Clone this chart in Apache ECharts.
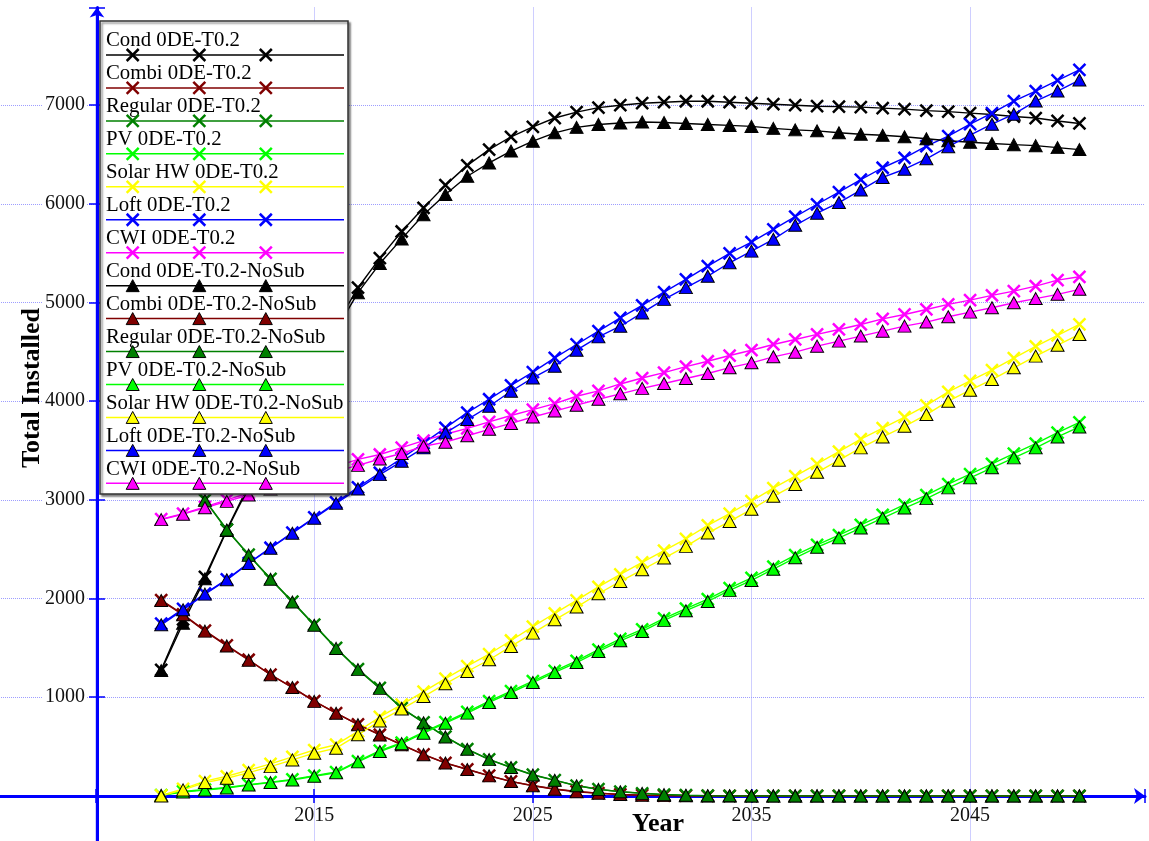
<!DOCTYPE html>
<html><head><meta charset="utf-8">
<script src="https://cdn.jsdelivr.net/npm/echarts@6/dist/echarts.min.js"></script>
<style>html,body{margin:0;padding:0;background:#fff}#c{width:1149px;height:841px}</style>
</head><body><div id="c"></div>
<script>
const years = [2008,2009,2010,2011,2012,2013,2014,2015,2016,2017,2018,2019,2020,2021,2022,2023,2024,2025,2026,2027,2028,2029,2030,2031,2032,2033,2034,2035,2036,2037,2038,2039,2040,2041,2042,2043,2044,2045,2046,2047,2048,2049,2050];

const xTickLabels = [2015, 2025, 2035, 2045];
const yTickLabels = [1000, 2000, 3000, 4000, 5000, 6000, 7000];

const condSub = [1278,1790,2220,2700,3150,3580,3990,4380,4770,5150,5450,5720,5960,6190,6390,6550,6680,6780,6870,6930,6975,7000,7020,7030,7040,7040,7030,7020,7010,7000,6990,6985,6980,6970,6960,6945,6935,6920,6905,6885,6870,6840,6815];
const combiSub = [1985,1840,1675,1525,1380,1230,1100,960,840,725,620,520,420,335,270,205,148,105,70,45,28,15,8,4,2,1,0,0,0,0,0,0,0,0,0,0,0,0,0,0,0,0,0];
const regularSub = [3560,3290,3000,2700,2445,2200,1970,1735,1500,1285,1095,890,745,600,475,370,290,215,160,105,68,44,27,14,7,3,1,0,0,0,0,0,0,0,0,0,0,0,0,0,0,0,0];
const pvSub = [8,45,65,85,115,140,168,206,242,352,458,540,646,748,851,960,1062,1164,1267,1369,1482,1591,1687,1800,1899,1994,2107,2209,2324,2440,2545,2644,2746,2849,2951,3049,3159,3262,3365,3468,3570,3682,3786];
const solarSub = [5,71,150,199,261,325,395,465,519,655,800,925,1057,1188,1316,1438,1575,1715,1851,1982,2119,2246,2366,2486,2606,2742,2862,2987,3120,3240,3366,3490,3616,3728,3838,3958,4094,4207,4316,4436,4555,4667,4778];
const loftSub = [1745,1895,2050,2195,2360,2515,2668,2822,2975,3128,3275,3420,3575,3730,3885,4020,4160,4294,4439,4575,4710,4845,4971,5106,5235,5370,5499,5613,5742,5871,5996,6120,6245,6366,6467,6585,6687,6807,6919,7042,7143,7252,7357];
const cwiSub = [2805,2860,2930,3000,3070,3140,3205,3270,3340,3410,3460,3530,3600,3665,3725,3790,3855,3915,3975,4050,4105,4175,4235,4290,4350,4405,4463,4517,4575,4626,4677,4727,4778,4835,4879,4930,4981,5024,5072,5116,5166,5227,5261];

const condNoSub = [1270,1750,2200,2690,3130,3550,3950,4340,4720,5100,5395,5645,5890,6095,6280,6415,6535,6635,6720,6775,6805,6820,6830,6825,6815,6805,6795,6785,6765,6750,6740,6720,6705,6695,6680,6660,6640,6625,6612,6600,6590,6570,6550];
const combiNoSub = [1980,1835,1670,1520,1375,1228,1098,958,838,722,618,518,418,333,268,203,146,103,68,43,27,14,7,3,1,0,0,0,0,0,0,0,0,0,0,0,0,0,0,0,0,0,0];
const regularNoSub = [3555,3285,2995,2695,2440,2195,1965,1730,1495,1280,1090,888,742,598,472,368,288,212,158,103,66,42,26,13,6,2,1,0,0,0,0,0,0,0,0,0,0,0,0,0,0,0,0];
const pvNoSub = [5,40,60,80,110,135,162,200,235,345,450,530,636,737,839,947,1048,1149,1251,1352,1464,1572,1667,1779,1877,1971,2083,2184,2298,2413,2520,2615,2715,2816,2917,3013,3122,3223,3325,3426,3527,3638,3739];
const solarNoSub = [0,61,135,179,236,297,365,433,484,619,760,880,1007,1136,1261,1380,1515,1650,1785,1914,2049,2174,2292,2411,2529,2664,2782,2905,3036,3155,3280,3402,3527,3638,3746,3865,4000,4112,4220,4339,4457,4568,4677];
const loftNoSub = [1734,1886,2045,2190,2355,2510,2662,2815,2965,3111,3256,3391,3527,3679,3814,3949,4101,4236,4355,4517,4652,4760,4895,5032,5151,5267,5403,5521,5641,5783,5905,6013,6140,6268,6351,6457,6579,6696,6807,6909,7042,7143,7255];
const cwiNoSub = [2800,2855,2920,2985,3050,3110,3170,3230,3290,3350,3414,3470,3544,3585,3650,3715,3775,3840,3900,3960,4020,4075,4130,4180,4230,4281,4340,4389,4450,4497,4558,4609,4660,4710,4761,4802,4856,4903,4947,4998,5040,5083,5134];

const seriesNames = ['Cond 0DE-T0.2','Combi 0DE-T0.2','Regular 0DE-T0.2','PV 0DE-T0.2','Solar HW 0DE-T0.2','Loft 0DE-T0.2','CWI 0DE-T0.2',
  'Cond 0DE-T0.2-NoSub','Combi 0DE-T0.2-NoSub','Regular 0DE-T0.2-NoSub','PV 0DE-T0.2-NoSub','Solar HW 0DE-T0.2-NoSub','Loft 0DE-T0.2-NoSub','CWI 0DE-T0.2-NoSub'];
const seriesValues = [condSub,combiSub,regularSub,pvSub,solarSub,loftSub,cwiSub,condNoSub,combiNoSub,regularNoSub,pvNoSub,solarNoSub,loftNoSub,cwiNoSub];
const palette = ['#000000','#800000','#008000','#00ff00','#ffff00','#0000ff','#ff00ff'];

const FONT = '"Liberation Serif", "Times New Roman", serif';
const XPATH = 'path://M0,0L10,10M10,0L0,10';
const AXIS_BLUE = '#0000ff';
const GRID_COLOR = '#9d9dff';

const chart = echarts.init(document.getElementById('c'), null, {renderer: 'canvas'});

const series = seriesValues.map((vals, i) => {
  const c = palette[i % 7];
  const isX = i < 7;
  return {
    type: 'line', name: seriesNames[i], xAxisIndex: 0, yAxisIndex: 0,
    data: years.map((y, k) => [y, vals[k]]),
    symbol: isX ? XPATH : 'triangle',
    symbolSize: isX ? 12 : [13, 12],
    showSymbol: true,
    lineStyle: {color: c, width: 1.4},
    itemStyle: isX ? {color: c, borderColor: c, borderWidth: 2.5} : {color: c, borderColor: '#000', borderWidth: 1},
    z: isX ? 2 : 3,
    silent: true, animation: false
  };
});

// Legend drawn as graphic (text above a line carrying three markers)
const els = [];
const LX = 100, LY = 21, LW = 248, LH = 473, STEP = 32.95;
els.push({type: 'rect', shape: {x: LX, y: LY, width: LW, height: LH},
  style: {fill: '#fff', stroke: '#333', lineWidth: 1.5, shadowColor: 'rgba(0,0,0,0.45)', shadowOffsetX: 2, shadowOffsetY: 2, shadowBlur: 2}, z: 100});
seriesNames.forEach((n, i) => {
  const c = palette[i % 7];
  const ly = 55 + i * STEP;
  els.push({type: 'text', x: 106, y: ly - 14, style: {text: n, font: '20.8px ' + FONT, fill: '#000', textVerticalAlign: 'middle', verticalAlign: 'middle'}, z: 101});
  els.push({type: 'line', shape: {x1: 106, y1: ly, x2: 344, y2: ly}, style: {stroke: c, lineWidth: 1.5}, z: 101});
  [132.7, 199.3, 265.8].forEach(mx => {
    if (i < 7) {
      els.push({type: 'line', shape: {x1: mx - 6, y1: ly - 6, x2: mx + 6, y2: ly + 6}, style: {stroke: c, lineWidth: 2.5}, z: 102});
      els.push({type: 'line', shape: {x1: mx + 6, y1: ly - 6, x2: mx - 6, y2: ly + 6}, style: {stroke: c, lineWidth: 2.5}, z: 102});
    } else {
      els.push({type: 'polygon', shape: {points: [[mx, ly - 6], [mx + 6.5, ly + 6], [mx - 6.5, ly + 6]]}, style: {fill: c, stroke: '#000', lineWidth: 1}, z: 102});
    }
  });
});
els.push({type: 'text', x: 658, y: 824, style: {text: 'Year', font: 'bold 26px ' + FONT, fill: '#000', textAlign: 'center', align: 'center', textVerticalAlign: 'middle', verticalAlign: 'middle'}, z: 50});
els.push({type: 'text', x: 32, y: 388, rotation: Math.PI / 2, style: {text: 'Total Installed', font: 'bold 26px ' + FONT, fill: '#000', textAlign: 'center', align: 'center', textVerticalAlign: 'middle', verticalAlign: 'middle'}, z: 50});

const option = {
  animation: false,
  backgroundColor: '#ffffff',
  grid: {left: -123, right: 4, top: 7.5, bottom: -53.6, containLabel: false, outerBoundsMode: 'none'},
  xAxis: [
    {type: 'value', min: 1995, max: 2053, interval: 10, position: 'bottom', offset: -98.6,
     axisLine: {show: true, onZero: false, lineStyle: {color: AXIS_BLUE, width: 3}, symbol: ['none', 'arrow'], symbolSize: [12, 11]},
     axisTick: {show: true, inside: false, length: 7, lineStyle: {color: AXIS_BLUE, width: 1.5}},
     axisLabel: {show: true, margin: 10, fontSize: 20, fontFamily: FONT, color: '#111',
       formatter: v => (xTickLabels.indexOf(v) >= 0 ? String(v) : '')},
     splitLine: {show: true, showMinLine: false, showMaxLine: false, lineStyle: {type: 'dotted', color: GRID_COLOR, width: 1}}},
    {type: 'value', min: 1995, max: 2053, interval: 10, position: 'top', offset: -788.5,
     axisLine: {show: false, onZero: false},
     axisTick: {show: true, inside: false, length: 7, lineStyle: {color: AXIS_BLUE, width: 1.5}},
     axisLabel: {show: false}, splitLine: {show: false}}
  ],
  yAxis: [
    {type: 'value', min: -1000, max: 7990, interval: 1000, position: 'left', offset: -220,
     axisLine: {show: true, onZero: false, lineStyle: {color: AXIS_BLUE, width: 3}, symbol: ['none', 'arrow'], symbolSize: [11, 10]},
     axisTick: {show: true, inside: false, length: 8, lineStyle: {color: AXIS_BLUE, width: 1.5}},
     axisLabel: {show: true, margin: 10, fontSize: 20, fontFamily: FONT, color: '#111', backgroundColor: '#fff', padding: [0, 2, 0, 3],
       formatter: v => (yTickLabels.indexOf(v) >= 0 ? String(v) : '')},
     splitLine: {show: true, showMinLine: false, showMaxLine: false, lineStyle: {type: 'dotted', color: GRID_COLOR, width: 1}}},
    {type: 'value', min: -1000, max: 7990, interval: 1000, position: 'right', offset: -1048,
     axisLine: {show: false, onZero: false},
     axisTick: {show: true, inside: false, length: 8, lineStyle: {color: AXIS_BLUE, width: 1.5}},
     axisLabel: {show: false}, splitLine: {show: false}}
  ],
  graphic: {elements: els},
  series: series
};
chart.setOption(option);
</script>
</body></html>
